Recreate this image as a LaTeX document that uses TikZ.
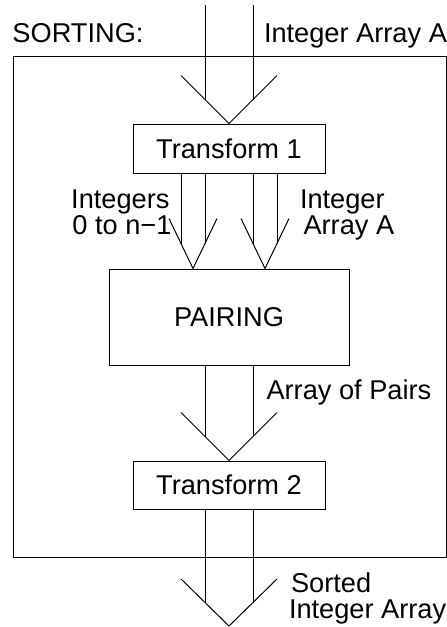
\documentclass[tikz,border=0pt]{standalone}
\usepackage{fontspec}
\setmainfont{Liberation Sans}
\newcommand\lblfont{\fontsize{27.2}{30}\selectfont}
\begin{document}
\begin{tikzpicture}[x=1pt,y=-1pt, line width=1pt,
  box/.style={draw, inner sep=0pt, font=\lblfont},
  lbl/.style={inner sep=0pt, font=\lblfont}]
\useasboundingbox (0,0) rectangle (447,627);
% outer frame
\node[draw, inner sep=0pt, minimum width=433pt, minimum height=501pt, anchor=north west] (outer) at (13,56) {};
% boxes
\node[box, minimum width=192pt, minimum height=49pt] (t1) at (229,148.5) {Transform 1};
\node[box, minimum width=240pt, minimum height=96pt] (p) at (229,317) {PAIRING};
\node[box, minimum width=192pt, minimum height=48pt] (t2) at (229,485) {Transform 2};
\coordinate (src) at (229,5);
\coordinate (out) at (229,626);
\coordinate (pl) at ([xshift=-36pt]p.north);
\coordinate (pr) at ([xshift=36pt]p.north);
% input arrow
\draw ([xshift=-24pt]src) -- ([xshift=-24pt,yshift=24pt]t1.north);
\draw ([xshift=24pt]src) -- ([xshift=24pt,yshift=24pt]t1.north);
\draw ([xshift=-48pt,yshift=48pt]t1.north) -- (t1.north) -- ([xshift=48pt,yshift=48pt]t1.north);
% left arrow to pairing
\draw ([xshift=-48pt]t1.south) -- ([xshift=-12pt,yshift=25pt]pl);
\draw ([xshift=-24pt]t1.south) -- ([xshift=12pt,yshift=25pt]pl);
\draw ([xshift=-24pt,yshift=50pt]pl) -- (pl) -- ([xshift=24pt,yshift=50pt]pl);
% right arrow to pairing
\draw ([xshift=24pt]t1.south) -- ([xshift=-12pt,yshift=25pt]pr);
\draw ([xshift=48pt]t1.south) -- ([xshift=12pt,yshift=25pt]pr);
\draw ([xshift=-24pt,yshift=50pt]pr) -- (pr) -- ([xshift=24pt,yshift=50pt]pr);
% pairing to transform 2
\draw ([xshift=-24pt]p.south) -- ([xshift=-24pt,yshift=24pt]t2.north);
\draw ([xshift=24pt]p.south) -- ([xshift=24pt,yshift=24pt]t2.north);
\draw ([xshift=-48pt,yshift=48pt]t2.north) -- (t2.north) -- ([xshift=48pt,yshift=48pt]t2.north);
% output arrow
\draw ([xshift=-24pt]t2.south) -- ([xshift=-24pt,yshift=23.5pt]out);
\draw ([xshift=24pt]t2.south) -- ([xshift=24pt,yshift=23.5pt]out);
\draw ([xshift=-48pt,yshift=47pt]out) -- (out) -- ([xshift=48pt,yshift=47pt]out);
% labels
\node[lbl, anchor=base west] (sorting) at (12,42) {SORTING:};
\node[lbl, anchor=base west] (inA) at (263.5,42) {Integer Array A};
\node[lbl, anchor=base east] (ints1) at (170,208.5) {Integers};
\node[lbl, anchor=base east] (ints2) at (172,234.5) {0 to n−1};
\node[lbl, anchor=base west] (ia1) at (299.5,208.5) {Integer};
\node[lbl, anchor=base west] (ia2) at (303,234.5) {Array A};
\node[lbl, anchor=base west] (aop) at (266,399) {Array of Pairs};
\node[lbl, anchor=base west] (s1) at (290.5,592.5) {Sorted};
\node[lbl, anchor=base west] (s2) at (288.5,618) {Integer Array};
\end{tikzpicture}
\end{document}
